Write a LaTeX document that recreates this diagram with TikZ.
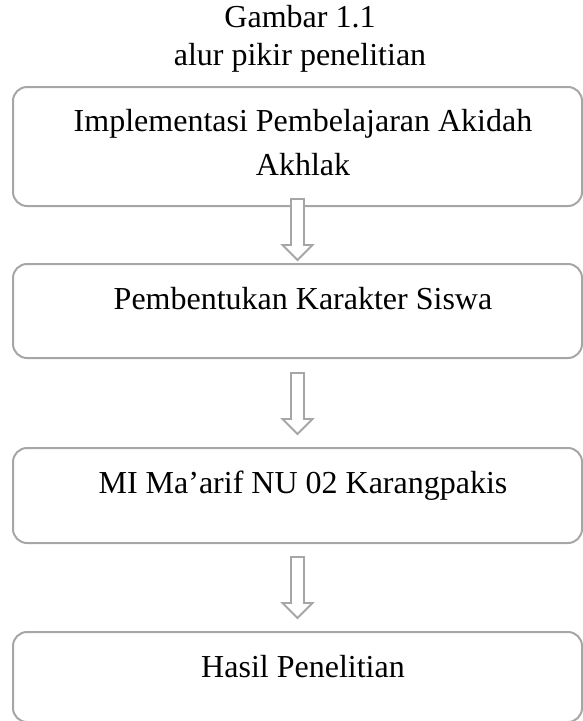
\documentclass[tikz,border=0pt]{standalone}
\usepackage{fontspec}
\setmainfont{Liberation Serif}
\usetikzlibrary{calc}
\definecolor{garis}{RGB}{166,166,166}
\tikzset{
    kotak/.style={draw=garis, line width=2pt, rounded corners=14pt,
        minimum width=569pt, inner sep=0pt},
    teks/.style={font=\fontsize{32}{38}\selectfont, anchor=base,
        inner sep=0pt, align=center},
    panah/.style={draw=garis, line width=1.8pt, fill=white, line join=miter},
}
% panah blok ke kotak #1, ujung #2 di atas sisi atas
\newcommand{\panahblok}[2]{%
    \coordinate (ujung) at ($(#1.north)+(0,#2)$);
    \draw[panah] ($(ujung)+(-6.5,61)$) -- ++(13,0) -- ++(0,-46) -- ++(8.5,0)
        -- (ujung) -- ++(-15,15) -- ++(8.5,0) -- cycle;
}

\begin{document}
\begin{tikzpicture}[x=1pt,y=1pt]
        \useasboundingbox (0,0) rectangle (583,-721);
        % Judul (base = baris terakhir)
        \node[teks] (judul) at (300,-65) {Gambar 1.1\\alur pikir penelitian};
        % Kotak
        \node[kotak, minimum height=119pt] (impl) at (297.5,-146.5) {};
        \node[kotak, minimum height=94pt] (karakter) at (297.5,-311) {};
        \node[kotak, minimum height=95pt] (madrasah) at (297.5,-495.5) {};
        \node[kotak, minimum height=90pt] (hasil) at (297.5,-677) {};
        % Isi kotak
        \node[teks, font=\fontsize{32}{44}\selectfont] (t-impl)
            at ($(impl.north)+(5.5,-89)$)
            {Implementasi Pembelajaran Akidah\\Akhlak};
        \node[teks] (t-karakter) at ($(karakter.north)+(5.5,-46)$)
            {Pembentukan Karakter Siswa};
        \node[teks] (t-madrasah) at ($(madrasah.north)+(5.5,-46)$)
            {MI Ma’arif NU 02 Karangpakis};
        \node[teks] (t-hasil) at ($(hasil.north)+(5.5,-46)$)
            {Hasil Penelitian};
        % Panah
        \panahblok{karakter}{3}
        \panahblok{madrasah}{13}
        \panahblok{hasil}{13}
\end{tikzpicture}
\end{document}
